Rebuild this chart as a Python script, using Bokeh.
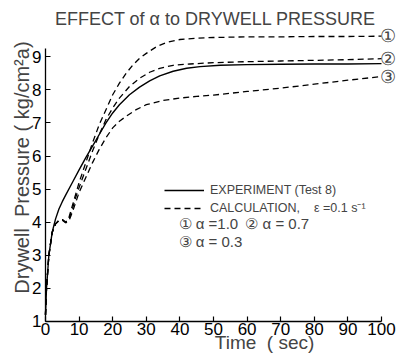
import math
from bokeh.plotting import figure
from bokeh.models import Label, Legend, LegendItem, Range1d, FixedTicker
from bokeh.embed import file_html
from bokeh.resources import INLINE

FONT = "Liberation Sans"

# Experiment (Test 8) - solid
t_exp = [0, 0.3, 1, 2, 2.5, 3, 4, 5, 6, 8, 10, 12, 14, 16, 18, 20, 22, 25, 28, 31,
         34, 38, 42, 46, 52, 60, 70, 80, 90, 100]
p_exp = [1.2, 2.0, 3.0, 3.7, 3.9, 4.1, 4.4, 4.62, 4.82, 5.2, 5.58, 5.95, 6.3, 6.65,
         7.0, 7.3, 7.55, 7.85, 8.08, 8.27, 8.42, 8.56, 8.65, 8.7, 8.74, 8.76, 8.77,
         8.78, 8.78, 8.79]

# Calculation, alpha = 1.0
t_a10 = [0, 0.3, 1, 2, 2.5, 3, 4, 5, 6, 7, 8, 9, 10, 12, 14, 16, 18, 20, 22, 24, 26,
         28, 30, 33, 36, 40, 45, 50, 60, 70, 80, 90, 100]
p_a10 = [1.2, 2.0, 3.0, 3.7, 3.82, 3.95, 4.05, 4.08, 4.0, 4.15, 4.5, 4.85, 5.2, 5.8,
         6.4, 6.95, 7.4, 7.85, 8.2, 8.5, 8.75, 8.95, 9.1, 9.3, 9.43, 9.52, 9.56, 9.58,
         9.6, 9.6, 9.61, 9.61, 9.62]

# Calculation, alpha = 0.7
t_a07 = [0, 0.3, 1, 2, 2.5, 3, 4, 5, 6, 7, 8, 9, 10, 12, 14, 16, 18, 20, 22, 25, 28,
         31, 34, 38, 43, 50, 60, 70, 80, 90, 100]
p_a07 = [1.2, 2.0, 3.0, 3.7, 3.82, 3.95, 4.05, 4.08, 4.0, 4.1, 4.4, 4.75, 5.05, 5.6,
         6.15, 6.65, 7.1, 7.45, 7.75, 8.1, 8.35, 8.53, 8.65, 8.74, 8.78, 8.82, 8.85,
         8.87, 8.89, 8.91, 8.94]

# Calculation, alpha = 0.3
t_a03 = [0, 0.3, 1, 2, 2.5, 3, 4, 5, 6, 7, 8, 9, 10, 12, 14, 16, 18, 20, 22, 24, 27,
         30, 35, 40, 45, 50, 60, 70, 80, 90, 100]
p_a03 = [1.2, 2.0, 3.0, 3.7, 3.82, 3.95, 4.05, 4.06, 3.98, 4.05, 4.3, 4.6, 4.9, 5.35,
         5.8, 6.2, 6.55, 6.85, 7.05, 7.2, 7.4, 7.55, 7.68, 7.75, 7.8, 7.84, 7.95, 8.05,
         8.17, 8.29, 8.40]

x_ticks = [0, 10, 20, 30, 40, 50, 60, 70, 80, 90, 100]
y_ticks = [1, 2, 3, 4, 5, 6, 7, 8, 9]
curve_marks = ["\u2460", "\u2461", "\u2462"]

p = figure(width=402, height=353, output_backend="svg", toolbar_location=None,
           title=None,
           x_range=Range1d(-13.39, 106.25), y_range=Range1d(0.0332, 10.698),
           min_border_left=0, min_border_bottom=0, min_border_top=0,
           min_border_right=0, min_border=0)
p.outline_line_color = None
p.grid.visible = False

for ax in (p.xaxis, p.yaxis):
    ax.major_tick_in = 5
    ax.major_tick_out = 0
    ax.minor_tick_in = 0
    ax.minor_tick_out = 0
    ax.axis_line_width = 1.3
    ax.major_tick_line_width = 1.2
    ax.major_label_text_font = FONT
    ax.major_label_text_font_size = "17px"
    ax.major_label_text_color = "black"
p.xaxis.ticker = FixedTicker(ticks=x_ticks)
p.yaxis.ticker = FixedTicker(ticks=y_ticks)
p.xaxis.bounds = (0, 100)
p.yaxis.bounds = (1, 9.25)
p.xaxis.fixed_location = 1
p.yaxis.fixed_location = 0
p.xaxis.major_label_standoff = 2
p.yaxis.major_label_standoff = 4

r_exp = p.line(t_exp, p_exp, line_color="black", line_width=1.4)
r1 = p.line(t_a10, p_a10, line_color="black", line_width=1.3, line_dash="6 4")
r2 = p.line(t_a07, p_a07, line_color="black", line_width=1.3, line_dash="6 4")
r3 = p.line(t_a03, p_a03, line_color="black", line_width=1.3, line_dash="6 4")

for mark, ys in zip(curve_marks, (p_a10, p_a07, p_a03)):
    p.add_layout(Label(x=101.8, y=ys[-1], text=mark, text_align="center",
                       text_baseline="middle", text_font=FONT,
                       text_font_size="18px"))

legend = Legend(items=[LegendItem(label="EXPERIMENT (Test 8)", renderers=[r_exp]),
                       LegendItem(label="CALCULATION,\u00a0\u00a0\u00a0 \u03b5 =0.1 s\u207b\u00b9",
                                  renderers=[r1])],
                location=(164, 137), glyph_width=40, glyph_height=16,
                label_height=16, label_standoff=6, spacing=1, padding=0, margin=0,
                label_text_font=FONT, label_text_font_size="12.5px",
                background_fill_alpha=0, border_line_alpha=0)
p.add_layout(legend)

p.add_layout(Label(x=39.6, y=3.96, text="\u2460 \u03b1 =1.0", text_font=FONT,
                   text_font_size="15px", text_baseline="middle"))
p.add_layout(Label(x=59.5, y=3.96, text="\u2461 \u03b1 = 0.7", text_font=FONT,
                   text_font_size="15px", text_baseline="middle"))
p.add_layout(Label(x=39.6, y=3.42, text="\u2462 \u03b1 = 0.3", text_font=FONT,
                   text_font_size="15px", text_baseline="middle"))

p.add_layout(Label(x=50.6, y=10.15, text="EFFECT of \u03b1 to DRYWELL PRESSURE",
                   text_align="center", text_baseline="middle", text_font=FONT,
                   text_font_size="18px"))
p.add_layout(Label(x=65.2, y=0.36, text="Time\u00a0 (\u00a0sec)", text_align="center",
                   text_baseline="middle", text_font=FONT, text_font_size="19px"))
p.add_layout(Label(x=-7.14, y=5.65, text="Drywell\u00a0 Pressure ( kg/cm\u00b2a)",
                   angle=math.pi / 2, text_align="center", text_baseline="middle",
                   text_font=FONT, text_font_size="20px"))

open("out.html", "w").write(file_html(p, INLINE))
